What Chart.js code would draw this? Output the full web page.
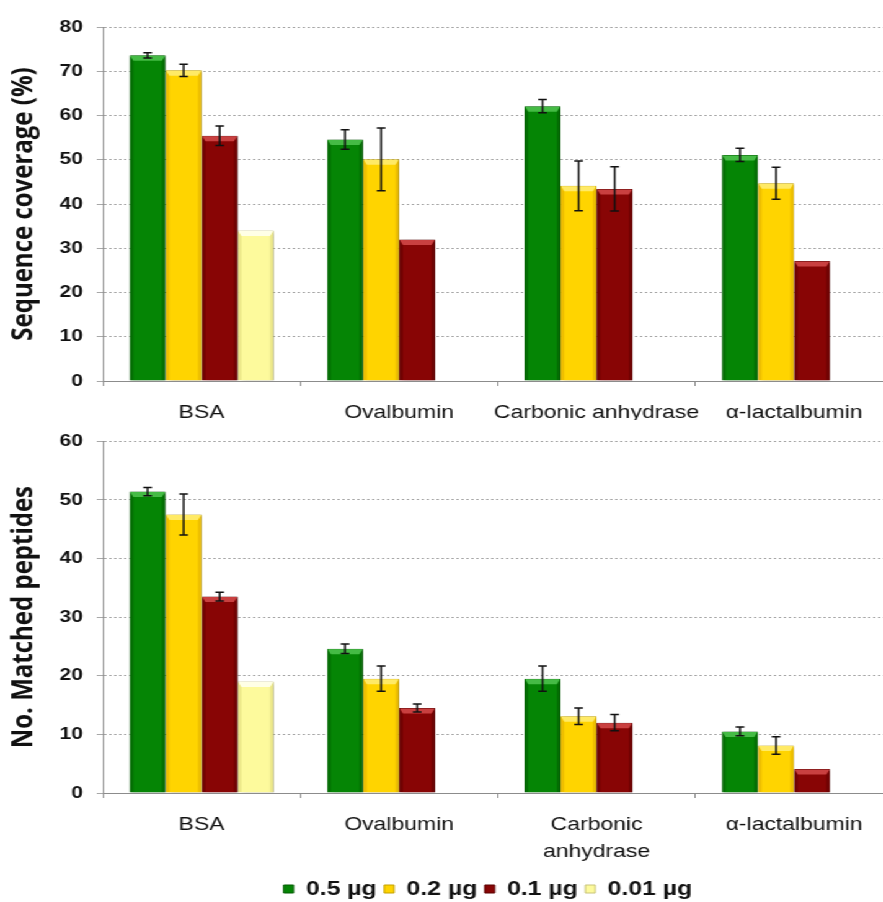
<!DOCTYPE html>
<html>
<head>
<meta charset="utf-8">
<script src="https://cdn.jsdelivr.net/npm/chart.js@4.4.1/dist/chart.umd.min.js"></script>
<style>
  html, body { margin: 0; padding: 0; background: #fff; overflow: hidden; width: 883px; height: 902px; }
  /* the original figure is stretched sideways, so the whole drawing is too */
  #wrap { position: absolute; left: 0; top: 0; width: 787px; height: 910px; transform: scaleX(1.24); transform-origin: 0 0; }
  .box { position: absolute; left: 0; width: 787px; }
  #topBox { top: 0; height: 420px; }
  #botBox { top: 420px; height: 490px; }
</style>
</head>
<body>
<div id="wrap">
  <div class="box" id="topBox"><canvas id="coverage"></canvas></div>
  <div class="box" id="botBox"><canvas id="peptides"></canvas></div>
</div>
<script>
const proteins = ['BSA', 'Ovalbumin', 'Carbonic anhydrase', 'α-lactalbumin'];
const proteinsWrapped = ['BSA', 'Ovalbumin', ['Carbonic', 'anhydrase'], 'α-lactalbumin'];
const amounts = ['0.5 µg', '0.2 µg', '0.1 µg', '0.01 µg'];

// sequence coverage (%)
const coverage05 = [73.6, 54.6, 62.1, 51.1];
const coverage02 = [70.2, 50.1, 44.1, 44.7];
const coverage01 = [55.4, 32.0, 43.4, 27.1];
const coverage001 = [34.0, null, null, null];
const coverageErr05 = [0.6, 2.2, 1.5, 1.5];
const coverageErr02 = [1.4, 7.1, 5.6, 3.6];
const coverageErr01 = [2.2, null, 5.0, null];
const coverageErr001 = [null, null, null, null];

// number of matched peptides
const peptides05 = [51.4, 24.6, 19.5, 10.5];
const peptides02 = [47.5, 19.5, 13.1, 8.1];
const peptides01 = [33.5, 14.5, 12.0, 4.1];
const peptides001 = [19.0, null, null, null];
const peptidesErr05 = [0.7, 0.8, 2.15, 0.75];
const peptidesErr02 = [3.5, 2.15, 1.4, 1.5];
const peptidesErr01 = [0.75, 0.7, 1.4, null];
const peptidesErr001 = [null, null, null, null];

const fills  = ['#058505', '#ffd400', '#880505', '#fdfa9c'];
const edges  = ['#035a03', '#c2a000', '#5a0202', '#c8c47a'];
const bevels = ['#45bb45', '#ffea66', '#c94040', '#ffffe6'];
const sides  = ['#046e04', '#eebf00', '#700303', '#ece88a'];

const FONT = 'Liberation Sans, Arial, sans-serif';

function makeDatasets(values, errors) {
    return values.map((v, i) => ({
        label: amounts[i],
        data: v,
        err: errors[i],
        backgroundColor: fills[i],
        borderColor: edges[i],
        borderWidth: 1,
        categoryPercentage: 0.73,
        barPercentage: 1.0
    }));
}

// bevelled look of the bars + error bars
const barLook = {
    id: 'barLook',
    beforeDatasetsDraw(chart) {
        const ctx = chart.ctx;
        ctx.save();
        ctx.shadowColor = 'rgba(0,0,0,0.3)';
        ctx.shadowOffsetX = 2;
        ctx.shadowOffsetY = 1;
        ctx.shadowBlur = 3;
    },
    afterDatasetsDraw(chart) {
        const ctx = chart.ctx;
        ctx.restore();
        chart.data.datasets.forEach((ds, di) => {
            chart.getDatasetMeta(di).data.forEach((bar, j) => {
                if (ds.data[j] == null) return;
                const p = bar.getProps(['x', 'y', 'base', 'width'], true);
                const l = p.x - p.width / 2 + 0.5, r = p.x + p.width / 2 - 0.5;
                const t = p.y + 0.5, b = p.base - 0.5;
                const bv = 2.5, bh = 5;
                ctx.save();
                ctx.fillStyle = sides[di];
                ctx.beginPath(); ctx.moveTo(l, t); ctx.lineTo(l + bv, t + bh); ctx.lineTo(l + bv, b); ctx.lineTo(l, b); ctx.closePath(); ctx.fill();
                ctx.beginPath(); ctx.moveTo(r, t); ctx.lineTo(r - bv, t + bh); ctx.lineTo(r - bv, b); ctx.lineTo(r, b); ctx.closePath(); ctx.fill();
                ctx.fillStyle = bevels[di];
                ctx.beginPath(); ctx.moveTo(l, t); ctx.lineTo(r, t); ctx.lineTo(r - bv, t + bh); ctx.lineTo(l + bv, t + bh); ctx.closePath(); ctx.fill();
                ctx.restore();
            });
        });

        const ys = chart.scales.y;
        ctx.save();
        ctx.strokeStyle = '#111';
        ctx.lineWidth = 1.5;
        chart.data.datasets.forEach((ds, di) => {
            chart.getDatasetMeta(di).data.forEach((bar, j) => {
                const e = ds.err[j];
                if (e == null || ds.data[j] == null) return;
                const x = bar.x;
                const y1 = ys.getPixelForValue(ds.data[j] + e);
                const y2 = ys.getPixelForValue(ds.data[j] - e);
                ctx.beginPath();
                ctx.moveTo(x, y1); ctx.lineTo(x, y2);
                ctx.moveTo(x - 3.5, y1); ctx.lineTo(x + 3.5, y1);
                ctx.moveTo(x - 3.5, y2); ctx.lineTo(x + 3.5, y2);
                ctx.stroke();
            });
        });
        ctx.restore();
    }
};

function makeOptions(yTitle, yMax, xHeight, padding, showLegend) {
    return {
        responsive: true,
        maintainAspectRatio: false,
        animation: false,
        layout: { padding: padding },
        plugins: {
            legend: {
                display: showLegend,
                position: 'bottom',
                labels: {
                    boxWidth: 8,
                    boxHeight: 8,
                    padding: 6,
                    color: '#111',
                    font: { family: FONT, size: 20, weight: 'bold' }
                }
            },
            tooltip: { enabled: false }
        },
        scales: {
            x: {
                grid: { offset: true, drawOnChartArea: false, tickLength: 5, color: '#8c8c8c' },
                border: { color: '#8c8c8c' },
                ticks: {
                    color: '#111',
                    font: { family: FONT, size: 18.5, lineHeight: 1.46 },
                    padding: 13,
                    maxRotation: 0,
                    autoSkip: false
                },
                afterFit: s => { s.height = xHeight; }
            },
            y: {
                min: 0,
                max: yMax,
                ticks: {
                    stepSize: 10,
                    color: '#111',
                    font: { family: FONT, size: 17, weight: 'bold' },
                    padding: 11
                },
                grid: { color: '#a8a8a8', tickLength: 5, tickColor: '#a8a8a8' },
                border: { color: '#8c8c8c', dash: [2, 2] },
                title: {
                    display: true,
                    text: yTitle,
                    color: '#111',
                    font: { family: 'Open Sans', size: 24, weight: 'bold' },
                    padding: { top: 5, bottom: 0 }
                },
                afterFit: s => { s.width = 83; }
            },
            // empty spacer on the right, the plot runs past the picture edge
            y2: {
                position: 'right',
                grid: { display: false },
                ticks: { display: false },
                border: { display: false },
                afterFit: s => { s.width = 67; }
            }
        }
    };
}

new Chart(document.getElementById('coverage'), {
    type: 'bar',
    data: {
        labels: proteins,
        datasets: makeDatasets(
            [coverage05, coverage02, coverage01, coverage001],
            [coverageErr05, coverageErr02, coverageErr01, coverageErr001])
    },
    options: makeOptions('Sequence coverage (%)', 80, 39, { top: 27, bottom: 0, left: 0, right: 0 }, false),
    plugins: [barLook]
});

new Chart(document.getElementById('peptides'), {
    type: 'bar',
    data: {
        labels: proteinsWrapped,
        datasets: makeDatasets(
            [peptides05, peptides02, peptides01, peptides001],
            [peptidesErr05, peptidesErr02, peptidesErr01, peptidesErr001])
    },
    options: makeOptions('No. Matched peptides', 60, 80, { top: 16, bottom: 1, left: 0, right: 0 }, true),
    plugins: [barLook]
});
</script>
</body>
</html>
